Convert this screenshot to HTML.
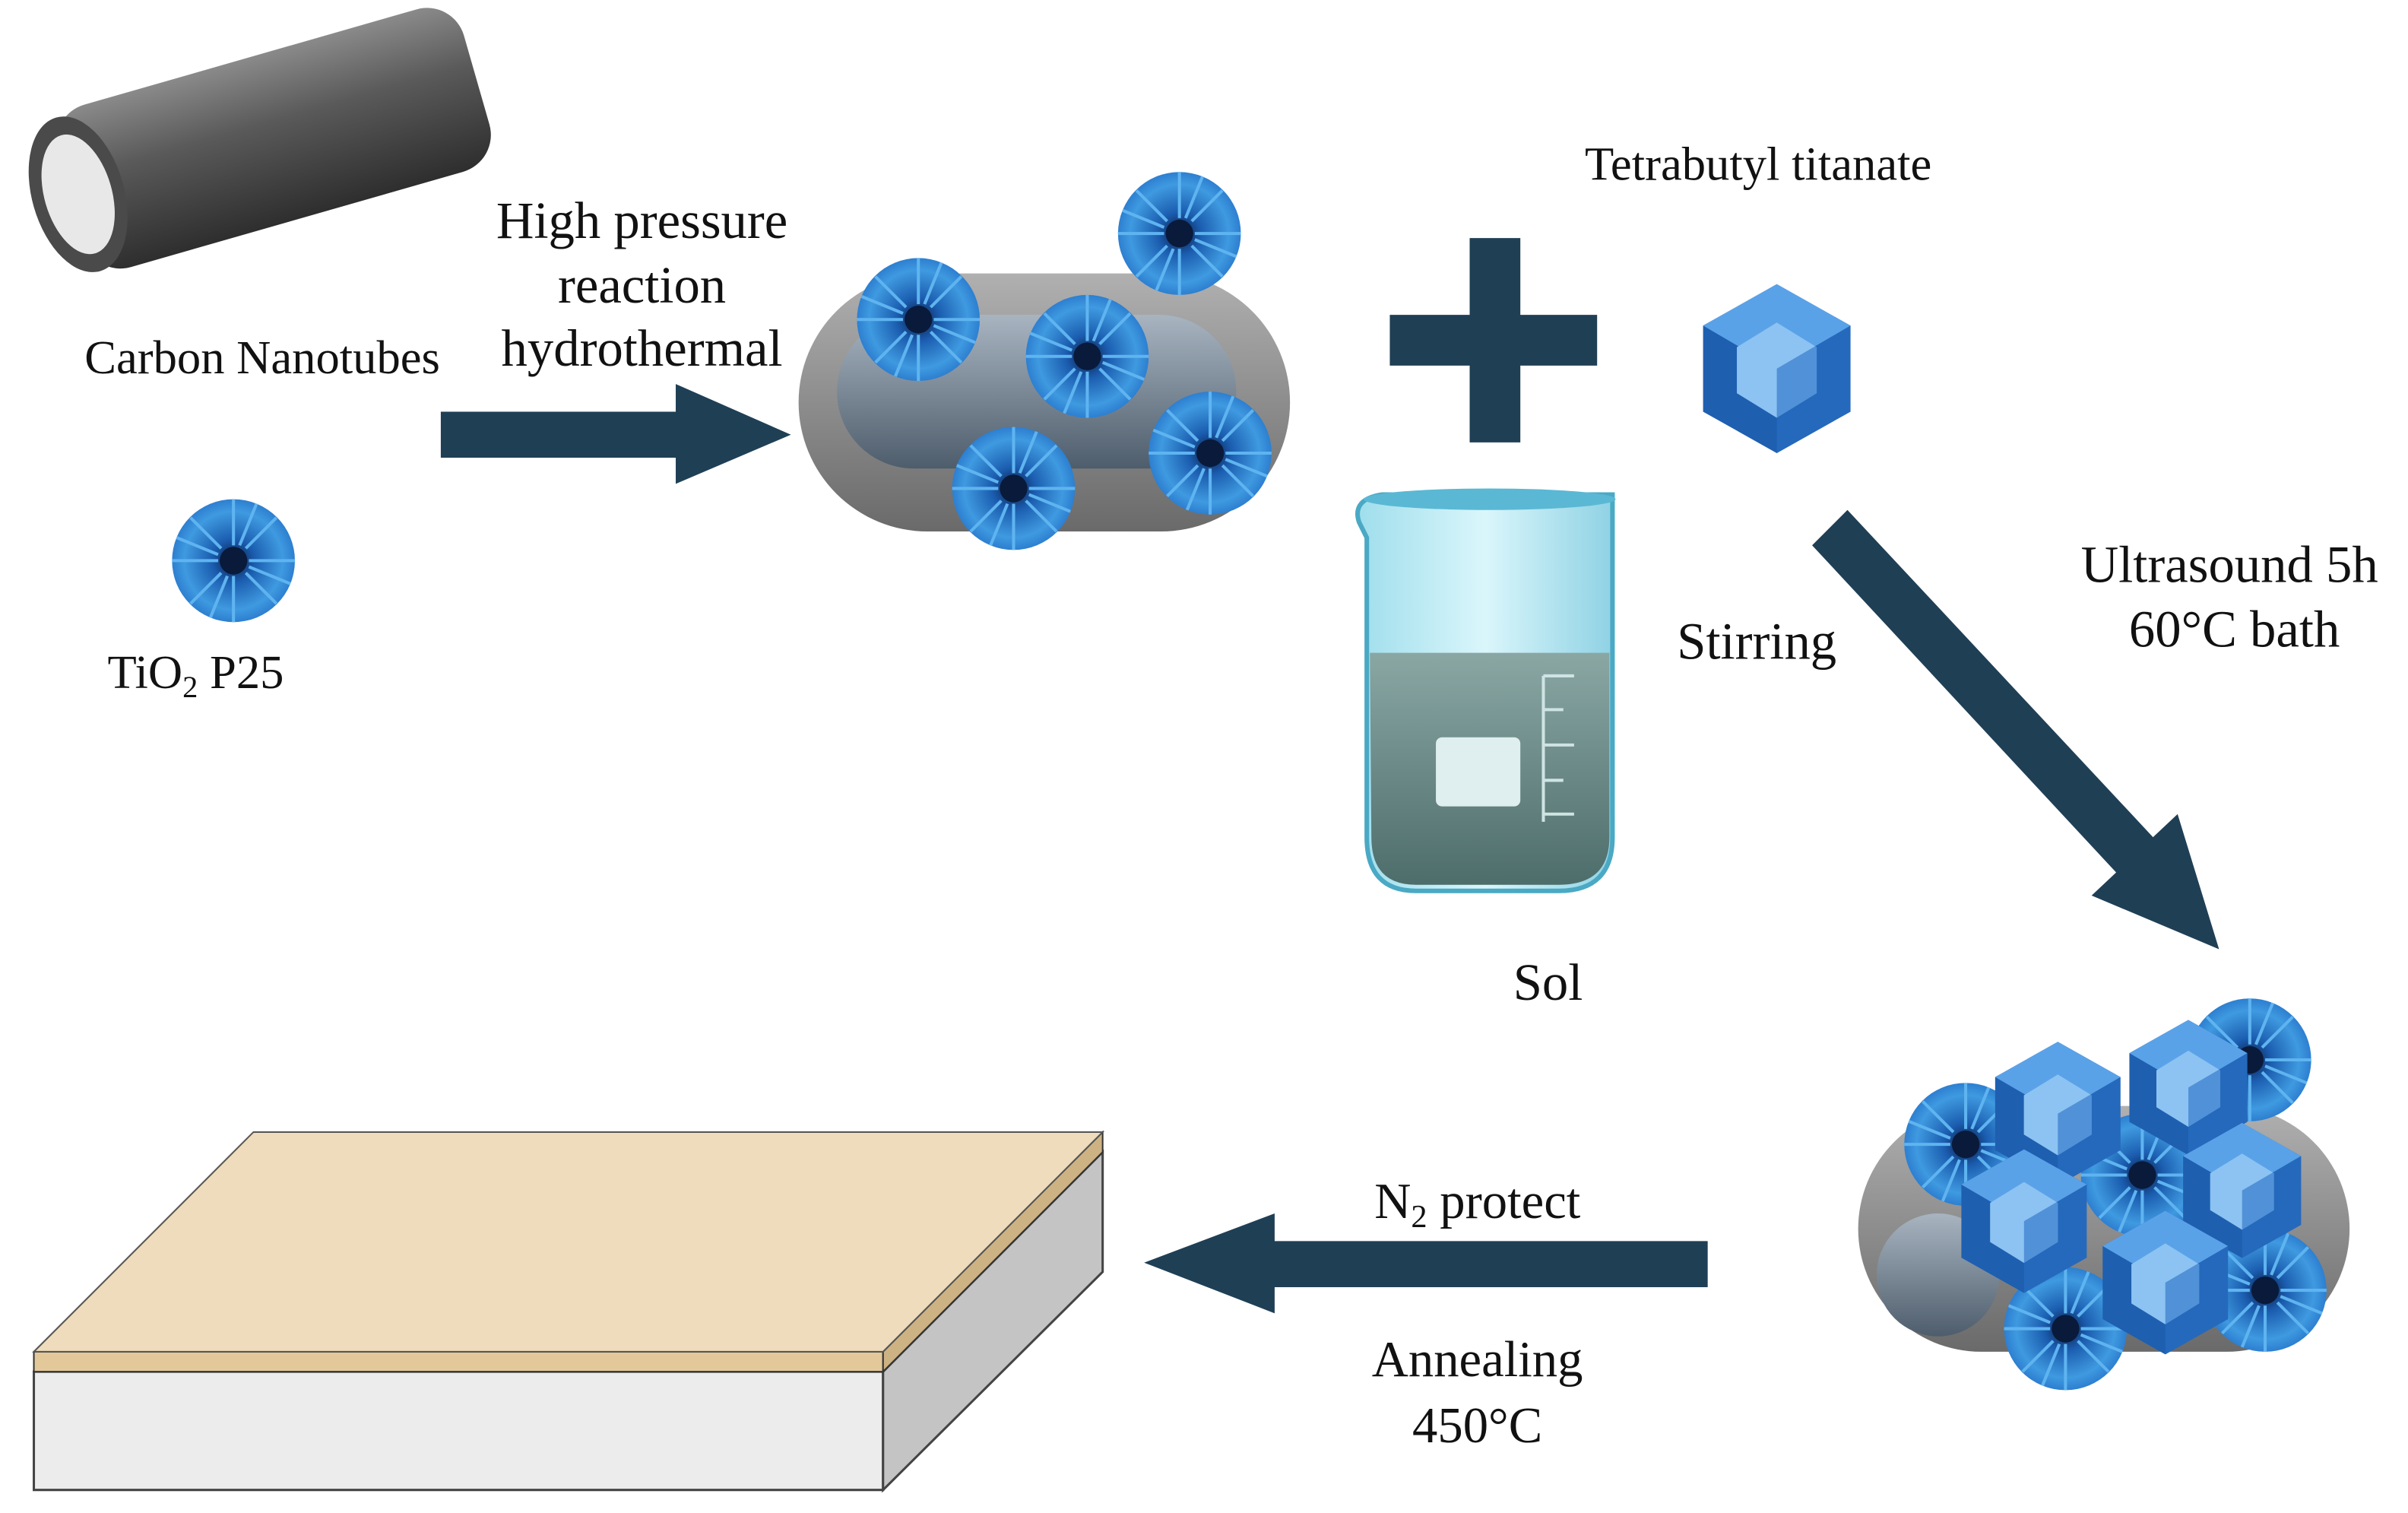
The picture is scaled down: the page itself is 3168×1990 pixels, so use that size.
<!DOCTYPE html>
<html><head><meta charset="utf-8"><style>
html,body{margin:0;padding:0;background:#fff;}
svg{display:block;}
text{font-family:"Liberation Serif",serif;fill:#111;}
</style></head><body>
<svg width="3168" height="1990" viewBox="0 0 1568 985" xmlns="http://www.w3.org/2000/svg">
<defs>
<radialGradient id="sph" cx="0.5" cy="0.5" r="0.5">
<stop offset="0" stop-color="#0a1a40"/><stop offset="0.35" stop-color="#1b5db0"/><stop offset="0.8" stop-color="#3f9ae0"/><stop offset="1" stop-color="#2d7fd0"/>
</radialGradient>
<linearGradient id="tube" x1="0" y1="0" x2="0" y2="1">
<stop offset="0" stop-color="#8a8a8a"/><stop offset="0.4" stop-color="#5a5a5a"/><stop offset="1" stop-color="#2e2e2e"/>
</linearGradient>
<linearGradient id="cap" x1="0" y1="0" x2="0" y2="1">
<stop offset="0" stop-color="#b0b0b0"/><stop offset="1" stop-color="#6a6a6a"/>
</linearGradient>
<linearGradient id="inner" x1="0" y1="0" x2="0" y2="1">
<stop offset="0" stop-color="#a8b4c0"/><stop offset="1" stop-color="#4e5d6c"/>
</linearGradient>
<linearGradient id="water" x1="0" y1="0" x2="0" y2="1">
<stop offset="0" stop-color="#8aa7a4"/><stop offset="1" stop-color="#4d6d6b"/>
</linearGradient>
<linearGradient id="glass" x1="0" y1="0" x2="1" y2="0">
<stop offset="0" stop-color="#9fdeec"/><stop offset="0.5" stop-color="#daf6fb"/><stop offset="1" stop-color="#8fd2e4"/>
</linearGradient>
<g id="ball">
<circle r="40" fill="url(#sph)"/>
<g stroke="#5fb4f0" stroke-width="2">
<line x1="0" y1="-40" x2="0" y2="-10"/><line x1="28" y1="-28" x2="8" y2="-8"/><line x1="40" y1="0" x2="10" y2="0"/><line x1="28" y1="28" x2="8" y2="8"/>
<line x1="0" y1="40" x2="0" y2="10"/><line x1="-28" y1="28" x2="-8" y2="8"/><line x1="-40" y1="0" x2="-10" y2="0"/><line x1="-28" y1="-28" x2="-8" y2="-8"/>
<line x1="15" y1="-37" x2="4" y2="-10"/><line x1="37" y1="15" x2="10" y2="4"/><line x1="-15" y1="37" x2="-4" y2="10"/><line x1="-37" y1="-15" x2="-10" y2="-4"/>
</g>
<circle r="9" fill="#0a1a3a"/>
</g>
<g id="cube">
<polygon points="0,-55 48,-28 48,28 0,55 -48,28 -48,-28" fill="#1e5fb0"/>
<polygon points="0,-55 48,-28 0,0 -48,-28" fill="#5aa2e8"/>
<polygon points="0,-30 26,-14 26,16 0,32 -26,16 -26,-14" fill="#8cc3f2"/>
<polygon points="0,0 48,-28 48,28 0,55" fill="#2a6fc4" opacity="0.6"/>
</g>
</defs>

<!-- Carbon nanotube -->
<g transform="rotate(-16 160 90)">
<rect x="40" y="40" width="275" height="110" rx="25" fill="url(#tube)"/>
<ellipse cx="45" cy="95" rx="30" ry="52" fill="#4a4a4a"/>
<ellipse cx="45" cy="95" rx="22" ry="40" fill="#e8e8e8"/>
</g>
<text x="55" y="243" font-size="31">Carbon Nanotubes</text>
<use href="#ball" x="152" y="365"/>
<text x="70" y="448" font-size="31">TiO<tspan font-size="20" dy="6">2</tspan><tspan dy="-6">  P25</tspan></text>

<!-- Arrow 1 -->
<polygon points="287,268 440,268 440,250 515,283 440,315 440,298 287,298" fill="#1f3f55"/>
<text x="418" y="155" font-size="34" text-anchor="middle">High pressure</text>
<text x="418" y="197" font-size="34" text-anchor="middle">reaction</text>
<text x="418" y="238" font-size="34" text-anchor="middle">hydrothermal</text>

<!-- capsule with spheres -->
<rect x="520" y="178" width="320" height="168" rx="84" fill="url(#cap)"/>
<rect x="545" y="205" width="260" height="100" rx="50" fill="url(#inner)"/>
<use href="#ball" x="598" y="208"/>
<use href="#ball" x="768" y="152"/>
<use href="#ball" x="708" y="232"/>
<use href="#ball" x="660" y="318"/>
<use href="#ball" x="788" y="295"/>

<!-- Plus -->
<polygon points="957,155 990,155 990,205 1040,205 1040,238 990,238 990,288 957,288 957,238 905,238 905,205 957,205" fill="#1f3f55"/>
<use href="#cube" x="1157" y="240"/>
<text x="1032" y="117" font-size="31">Tetrabutyl titanate</text>

<!-- Beaker -->
<path d="M885,340 Q880,325 900,322 L1050,322 L1050,545 Q1050,580 1015,580 L922,580 Q890,580 890,545 L890,350 Z" fill="url(#glass)" stroke="#4aa9c4" stroke-width="3"/>
<path d="M892,425 L1048,425 L1048,545 Q1048,576 1015,576 L922,576 Q893,576 893,545 Z" fill="url(#water)"/>
<ellipse cx="970" cy="325" rx="82" ry="7" fill="#5ab8d4"/>
<rect x="935" y="480" width="55" height="45" rx="4" fill="#dfeeee"/>
<g stroke="#cfe3e3" stroke-width="2"><line x1="1005" y1="440" x2="1025" y2="440"/><line x1="1005" y1="462" x2="1018" y2="462"/><line x1="1005" y1="485" x2="1025" y2="485"/><line x1="1005" y1="508" x2="1018" y2="508"/><line x1="1005" y1="530" x2="1025" y2="530"/><line x1="1005" y1="440" x2="1005" y2="535"/></g>
<text x="1092" y="429" font-size="34">Stirring</text>
<text x="1008" y="651" font-size="34" text-anchor="middle">Sol</text>

<!-- Diagonal arrow -->
<polygon points="1180,355 1203,332 1402,545 1418,530 1445,618 1362,583 1378,568" fill="#1f3f55"/>
<text x="1355" y="379" font-size="34">Ultrasound 5h</text>
<text x="1455" y="421" font-size="34" text-anchor="middle">60°C bath</text>

<!-- Composite cluster -->
<rect x="1210" y="720" width="320" height="160" rx="80" fill="url(#cap)"/>
<circle cx="1262" cy="830" r="40" fill="url(#inner)"/>
<use href="#ball" x="1465" y="690"/>
<use href="#ball" x="1280" y="745"/>
<use href="#ball" x="1395" y="765"/>
<use href="#ball" x="1475" y="840"/>
<use href="#ball" x="1345" y="865"/>
<use href="#cube" x="1340" y="725" transform="translate(1340 725) scale(0.85) translate(-1340 -725)"/>
<use href="#cube" x="1425" y="708" transform="translate(1425 708) scale(0.8) translate(-1425 -708)"/>
<use href="#cube" x="1318" y="795" transform="translate(1318 795) scale(0.85) translate(-1318 -795)"/>
<use href="#cube" x="1460" y="775" transform="translate(1460 775) scale(0.8) translate(-1460 -775)"/>
<use href="#cube" x="1410" y="835" transform="translate(1410 835) scale(0.85) translate(-1410 -835)"/>

<!-- Left arrow -->
<polygon points="1112,808 830,808 830,790 745,822 830,855 830,838 1112,838" fill="#1f3f55"/>
<text x="895" y="793" font-size="33">N<tspan font-size="21" dy="6">2</tspan><tspan dy="-6"> protect</tspan></text>
<text x="962" y="896" font-size="33" text-anchor="middle">Annealing</text>
<text x="962" y="939" font-size="33" text-anchor="middle">450°C</text>

<!-- Slab -->
<polygon points="22,893 575,893 575,970 22,970" fill="#ececec" stroke="#444" stroke-width="1.5"/>
<polygon points="575,893 718,750 718,828 575,970" fill="#c4c4c4" stroke="#444" stroke-width="1.5"/>
<polygon points="22,880 575,880 575,893 22,893" fill="#e3c99a" stroke="#333" stroke-width="1"/>
<polygon points="575,880 718,737 718,750 575,893" fill="#cdb283" stroke="#333" stroke-width="1"/>
<polygon points="22,880 165,737 718,737 575,880" fill="#efdcbc" stroke="#555" stroke-width="1"/>
</svg>
</body></html>
